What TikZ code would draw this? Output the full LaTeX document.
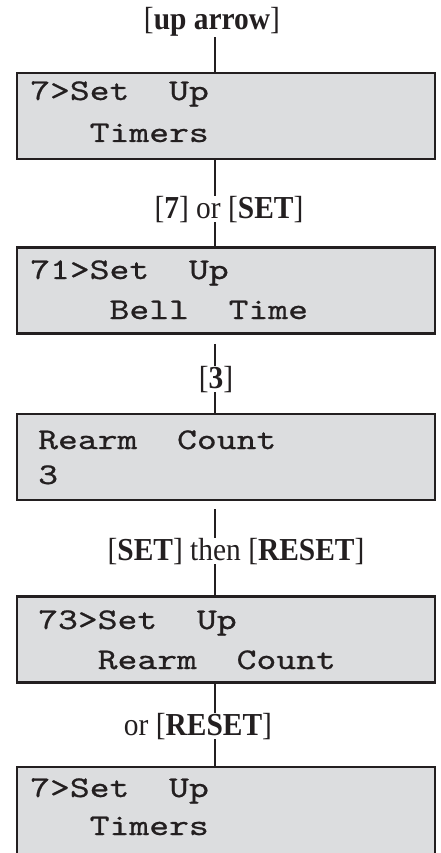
\documentclass[tikz,border=0pt]{standalone}
\usepackage{fontspec}
\setmainfont{Liberation Serif}
\newfontfamily\keyfont[FakeStretch=0.92]{Liberation Serif}
\newfontfamily\lcdfont[FakeStretch=1.26, FakeBold=0.7]{lmmono10-regular.otf}
\definecolor{PanelFill}{HTML}{DCDDDF}
\definecolor{PanelEdge}{HTML}{231F20}

\begin{document}
\begin{tikzpicture}[x=1pt, y=-1pt,
        screen/.style={draw=PanelEdge, fill=PanelFill, line width=2.6pt,
                       minimum width=418pt, minimum height=86pt, inner sep=0pt},
        lcd/.style={anchor=base west, inner sep=0pt, text=PanelEdge,
                    font=\fontsize{30}{30}\lcdfont},
        key/.style={anchor=base, inner sep=0pt, text=PanelEdge,
                    font=\fontsize{32}{32}\keyfont},
        wire/.style={line width=2.6pt, PanelEdge}
    ]
        \clip (0,0) rectangle (441,853);
        \coordinate (spine) at (215,0);

        % display panels
        \node[screen] (s1) at (226,116) {};
        \node[screen] (s2) at (226,290.5) {};
        \node[screen] (s3) at (226,457) {};
        \node[screen] (s4) at (226,639.5) {};
        \node[screen, minimum height=96pt] (s5) at (226,815) {};

        \node[lcd] (s1a) at (30,100) {7>Set~~Up};
        \node[lcd] (s1b) at (30,142) {~~~Timers};
        \node[lcd] (s2a) at (30,279) {71>Set~~Up};
        \node[lcd] (s2b) at (30,319) {~~~~Bell~~Time};
        \node[lcd] (s3a) at (38,449) {Rearm~~Count};
        \node[lcd] (s3b) at (38,484) {3};
        \node[lcd] (s4a) at (38,629) {73>Set~~Up};
        \node[lcd] (s4b) at (38,669) {~~~Rearm~~Count};
        \node[lcd] (s5a) at (30,797) {7>Set~~Up};
        \node[lcd] (s5b) at (30,835) {~~~Timers};

        % key presses
        \node[key] (k1) at (212,30) {[\textbf{up arrow}]};
        \node[key] (k2) at (229,218) {[\textbf{7}] or [\textbf{SET}]};
        \node[key] (k3) at (216,388) {[\textbf{3}]};
        \node[key] (k4) at (236,560) {[\textbf{SET}] then [\textbf{RESET}]};
        \node[key] (k5) at (198,735) {or [\textbf{RESET}]};

        \draw[wire] (k1.south -| spine) -- (s1.north -| spine);
        \draw[wire] (s1.south -| spine) -- (k2.north -| spine);
        \draw[wire] (k2.south -| spine) -- (s2.north -| spine);
        \draw[wire, shorten <=9pt] (s2.south -| spine) -- (k3.north -| spine);
        \draw[wire] (k3.south -| spine) -- (s3.north -| spine);
        \draw[wire, shorten <=8pt] (s3.south -| spine) -- (k4.north -| spine);
        \draw[wire] (k4.south -| spine) -- (s4.north -| spine);
        \draw[wire] (s4.south -| spine) -- (k5.north -| spine);
        \draw[wire] (k5.south -| spine) -- (s5.north -| spine);
    \end{tikzpicture}
\end{document}
